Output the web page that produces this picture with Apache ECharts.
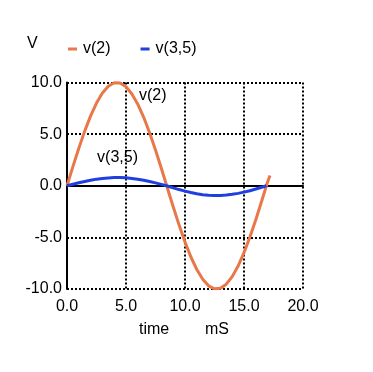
<!DOCTYPE html>
<html><head><meta charset="utf-8">
<script src="https://cdn.jsdelivr.net/npm/echarts@6/dist/echarts.min.js"></script>
<style>html,body{margin:0;padding:0;background:#fff}#c{width:373px;height:372px}</style>
</head><body><div id="c"></div>
<script>
const timeMs = [0,0.5,1,1.5,2,2.5,3,3.5,4,4.5,5,5.5,6,6.5,7,7.5,8,8.5,9,9.5,10,10.5,11,11.5,12,12.5,13,13.5,14,14.5,15,15.5,16,16.5,17,17.2];
const v2 = [0,1.85,3.63,5.29,6.77,8.01,8.98,9.64,9.97,9.95,9.59,8.89,7.9,6.63,5.14,3.47,1.67,-0.19,-2.04,-3.81,-5.45,-6.9,-8.11,-9.05,-9.69,-9.98,-9.93,-9.53,-8.8,-7.78,-6.48,-4.97,-3.29,-1.48,0.37,1.0];
const timeMs35 = [0,0.5,1,1.5,2,2.5,3,3.5,4,4.5,5,5.5,6,6.5,7,7.5,8,8.5,9,9.5,10,10.5,11,11.5,12,12.5,13,13.5,14,14.5,15,15.5,16,16.5,16.9];
const v35 = [0,0.15,0.29,0.42,0.54,0.64,0.71,0.76,0.79,0.79,0.77,0.71,0.63,0.53,0.41,0.28,0.13,-0.02,-0.2,-0.37,-0.52,-0.66,-0.78,-0.87,-0.93,-0.95,-0.94,-0.9,-0.83,-0.74,-0.62,-0.48,-0.32,-0.15,0];
const xTicks = {min:0,max:20,interval:5};
const yTicks = {min:-10,max:10,interval:5};
const seriesNames = ['v(2)','v(3,5)'];
const colors = ['#E8784A','#1F3FE0'];

const chart = echarts.init(document.getElementById('c'));
const font = 'Liberation Sans, Arial, Helvetica, sans-serif';
chart.setOption({
  animation:false,
  textStyle:{fontFamily:font},
  grid:{left:67,right:70,top:82.5,bottom:83,containLabel:false},
  legend:{
    left:63, top:36, itemWidth:9, itemHeight:3, itemGap:30, icon:'rect',
    textStyle:{fontSize:16,color:'#000',fontFamily:font,padding:[0,0,0,1]},
    data:seriesNames
  },
  xAxis:{
    type:'value', min:xTicks.min, max:xTicks.max, interval:xTicks.interval,
    axisLine:{onZero:true,lineStyle:{color:'#000',width:2}},
    axisTick:{show:false},
    axisLabel:{color:'#000',fontSize:16,margin:10,fontFamily:font,formatter:v=>v.toFixed(1)},
    splitLine:{show:true,lineStyle:{color:'#000',type:[2,2],width:2}}
  },
  yAxis:{
    type:'value', min:yTicks.min, max:yTicks.max, interval:yTicks.interval,
    axisLine:{show:true,onZero:false,lineStyle:{color:'#000',width:2}},
    axisTick:{show:false},
    axisLabel:{color:'#000',fontSize:16,margin:5,fontFamily:font,formatter:v=>v.toFixed(1)},
    splitLine:{show:true,lineStyle:{color:'#000',type:[2,2],width:2}}
  },
  graphic:[
    {type:'text',left:27,top:36,style:{text:'V',font:'16px '+font,fill:'#000'}},
    {type:'text',left:139,top:322,style:{text:'time',font:'16px '+font,fill:'#000'}},
    {type:'text',left:205,top:322,style:{text:'mS',font:'16px '+font,fill:'#000'}}
  ],
  series:[
    {name:seriesNames[0],type:'line',showSymbol:false,color:colors[0],
     lineStyle:{width:3,color:colors[0]},
     data:timeMs.map((t,i)=>[t,v2[i]]),
     markPoint:{symbol:'circle',symbolSize:0,
       label:{show:true,formatter:'{b}',color:'#000',fontSize:16,fontFamily:font,position:'right',distance:0},
       data:[{name:'v(2)',coord:[6.1,8.7]}]}
    },
    {name:seriesNames[1],type:'line',showSymbol:false,color:colors[1],
     lineStyle:{width:3,color:colors[1]},
     data:timeMs35.map((t,i)=>[t,v35[i]]),
     markPoint:{symbol:'circle',symbolSize:0,
       label:{show:true,formatter:'{b}',color:'#000',fontSize:16,fontFamily:font,position:'right',distance:0},
       data:[{name:'v(3,5)',coord:[2.55,2.7]}]}
    }
  ]
});
</script></body></html>
